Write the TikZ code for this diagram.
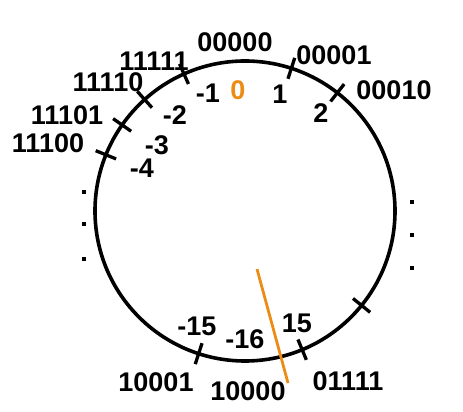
\documentclass[tikz,border=0pt]{standalone}
\usepackage{fontspec}
\setmainfont{Liberation Sans}
\usetikzlibrary{calc}
\definecolor{orng}{RGB}{236,140,20}
\begin{document}
\begin{tikzpicture}[x=1pt,y=1pt,
  lbl/.style={font=\fontsize{27}{30}\selectfont\bfseries, inner sep=0pt, anchor=center},
  tick/.style={line width=3.3pt},
  ring/.style={line width=3.6pt},
  dotm/.style={fill=black, draw=none, minimum size=3.4pt, inner sep=0pt, rectangle}]
\useasboundingbox (0,0) rectangle (463,412);
\coordinate (c) at (245,201);
\draw[ring] (c) circle (150);
% ticks
\foreach \a/\n in {114/tm1,132/tm2,145/tm3,158/tm4,72/tp1,52/tp2,252/tm15,292.4/tp15,321/tx}{
  \coordinate (\n a) at ($(c)+(\a:139)$);
  \coordinate (\n b) at ($(c)+(\a:161)$);
  \draw[tick] (\n a) -- (\n b);
}
% labels
\node[lbl] (b00000) at (235,370) {00000};
\node[lbl] (b11111) at (154,351) {11111};
\node[lbl] (b11110) at (108,330) {11110};
\node[lbl] (b11101) at (67,297) {11101};
\node[lbl] (b11100) at (48,269) {11100};
\node[lbl] (dm1) at (208,319) {-1};
\node[lbl, text=orng] (d0) at (238,322) {0};
\node[lbl] (dm2) at (175,297) {-2};
\node[lbl] (dm3) at (157,267) {-3};
\node[lbl] (dm4) at (142,244) {-4};
\node[lbl] (b00001) at (334,357) {00001};
\node[lbl] (d1) at (280,318) {1};
\node[lbl] (b00010) at (394,322) {00010};
\node[lbl] (d2) at (321,299) {2};
\node[lbl] (dm15) at (197,86) {-15};
\node[lbl] (dm16) at (245,73) {-16};
\node[lbl] (d15) at (297,89) {15};
\node[lbl] (b10001) at (156,30) {10001};
\node[lbl] (b10000) at (248,21) {10000};
\node[lbl] (b01111) at (348,31) {01111};
% dots
\foreach \y [count=\i] in {220,188,153}{ \node[dotm] (ld\i) at (84,\y) {}; }
\foreach \y [count=\i] in {210,177,144}{ \node[dotm] (rd\i) at (412,\y) {}; }
% orange divider
\coordinate (o1) at (257,143);
\coordinate (o2) at (288,29);
\draw[orng, line width=2.8pt] (o1) -- (o2);
\end{tikzpicture}
\end{document}
